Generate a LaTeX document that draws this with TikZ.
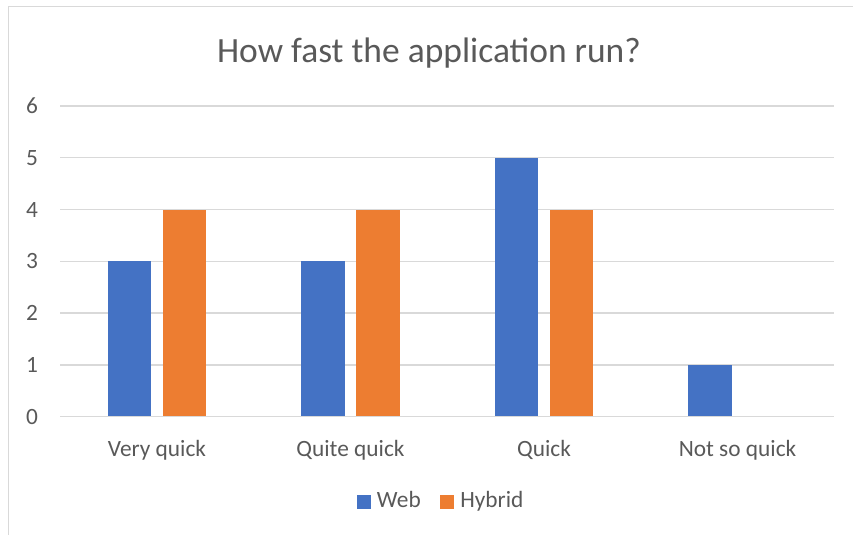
\documentclass[tikz,border=0pt]{standalone}
\usepackage{fontspec}
\setmainfont{Carlito}
\definecolor{webblue}{HTML}{4472C4}
\definecolor{hyborange}{HTML}{ED7D31}
\definecolor{txtgray}{HTML}{595959}
\definecolor{gridgray}{HTML}{D9D9D9}
\begin{document}
\begin{tikzpicture}[x=0.75pt,y=-0.75pt,
  gridline/.style={draw=gridgray,line width=1.3*0.75pt},
  frameline/.style={draw=gridgray,line width=1.5*0.75pt},
  ticklabel/.style={text=txtgray,font=\fontsize{17.5pt}{20pt}\selectfont,inner sep=0pt},
  catlabel/.style={text=txtgray,font=\fontsize{17.5pt}{20pt}\selectfont,inner sep=0pt,anchor=base},
  titlelabel/.style={text=txtgray,font=\fontsize{26.6pt}{30pt}\selectfont,inner sep=0pt,anchor=base},
  webbar/.style={fill=webblue,draw=none},
  hybbar/.style={fill=hyborange,draw=none}]
\useasboundingbox (0,0) rectangle (853,535);
% frame
\draw[frameline] (8.5,535) -- (8.5,6.5) -- (853,6.5);
% title
\node[titlelabel] (title) at (429,62.7) {How fast the application run?};
% gridlines and y labels
\foreach \v in {0,...,6}{
  \pgfmathsetmacro{\yy}{416.7-51.78*\v}
  \draw[gridline] (60,\yy) -- (834,\yy);
  \node[ticklabel] (y\v) at (32,\yy) {\v};
}
% bars
\foreach \c/\w/\h [count=\i] in {157/3/4, 350.5/3/4, 544/5/4, 737.5/1/0}{
  \fill[webbar] (\c-49.3,416.7) rectangle (\c-5.8,416.7-51.78*\w);
  \ifnum\h>0
    \fill[hybbar] (\c+5.8,416.7) rectangle (\c+49.3,416.7-51.78*\h);
  \fi
}
\draw[gridline] (60,416.7) -- (834,416.7);
% category labels
\node[catlabel] (c1) at (157,456.7) {Very quick};
\node[catlabel] (c2) at (350.5,456.7) {Quite quick};
\node[catlabel] (c3) at (544,456.7) {Quick};
\node[catlabel] (c4) at (737.5,456.7) {Not so quick};
% legend
\fill[webblue] (356.7,495) rectangle (370.7,508.6);
\node[catlabel,anchor=base west] (lweb) at (376.7,507.8) {Web};
\fill[hyborange] (440,495) rectangle (454,508.6);
\node[catlabel,anchor=base west] (lhyb) at (460,507.8) {Hybrid};
\end{tikzpicture}
\end{document}
